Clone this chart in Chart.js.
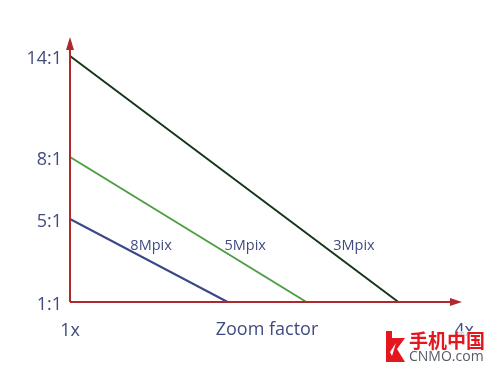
<!DOCTYPE html>
<html><head><meta charset="utf-8">
<script src="https://cdn.jsdelivr.net/npm/chart.js@4.4.1/dist/chart.umd.min.js"></script>
<style>html,body{margin:0;padding:0;background:#fff}</style>
</head><body><canvas id="c" width="500" height="375"></canvas>
<script>
// ---- data ----
const seriesNames = ['8Mpix', '5Mpix', '3Mpix'];
const zoomStart = [1, 1, 1];
const zoomEnd = [2.2, 2.8, 3.5];
const ratioStart = [5, 8, 14];
const ratioEnd = [1, 1, 1];
const yTicks = [1, 5, 8, 14];
const yTickLabels = ['1:1', '5:1', '8:1', '14:1'];
const xTicks = [1, 4];
const xTickLabels = ['1x', '4x'];
const xTitle = 'Zoom factor';

// ---- style ----
const lineColors = ['#3a4888', '#4e9e44', '#16361a'];
const textColor = '#404c80';
const axisColor = '#b0282c';
const FONT = '"Open Sans", "Noto Sans", sans-serif';
// schematic (non-uniform) spacing of the ratio axis: decimal of axis height per tick value
const yAnchorDecimals = [0, 0.3374, 0.5894, 1];

class PiecewiseScale extends Chart.LinearScale {
  _dec(value) {
    const v = yTicks, d = yAnchorDecimals;
    if (value <= v[0]) return d[0];
    for (let i = 1; i < v.length; i++) {
      if (value <= v[i]) {
        const t = (value - v[i - 1]) / (v[i] - v[i - 1]);
        return d[i - 1] + t * (d[i] - d[i - 1]);
      }
    }
    return d[d.length - 1];
  }
  getPixelForValue(value) { return this.getPixelForDecimal(this._dec(value)); }
  getValueForPixel(pixel) {
    const dec = this.getDecimalForPixel(pixel);
    const v = yTicks, d = yAnchorDecimals;
    for (let i = 1; i < d.length; i++) {
      if (dec <= d[i]) return v[i - 1] + (dec - d[i - 1]) / (d[i] - d[i - 1]) * (v[i] - v[i - 1]);
    }
    return v[v.length - 1];
  }
}
PiecewiseScale.id = 'piecewise';
PiecewiseScale.defaults = {};
Chart.register(PiecewiseScale);

const datasets = seriesNames.map((n, i) => ({
  label: n,
  data: [{x: zoomStart[i], y: ratioStart[i]}, {x: zoomEnd[i], y: ratioEnd[i]}],
  borderColor: lineColors[i],
  borderWidth: 2,
  pointRadius: 0,
  tension: 0,
  clip: false,
  fill: false
}));

const axesPlugin = {
  id: 'axesArrows',
  afterDatasetsDraw(chart) {
    const {ctx, chartArea: a} = chart;
    ctx.save();
    ctx.strokeStyle = axisColor;
    ctx.fillStyle = axisColor;
    ctx.lineWidth = 2;
    const x0 = a.left, y0 = a.bottom;
    ctx.beginPath();
    ctx.moveTo(x0, y0); ctx.lineTo(x0, 48);
    ctx.moveTo(x0, y0); ctx.lineTo(a.right - 10, y0);
    ctx.stroke();
    ctx.beginPath();
    ctx.moveTo(x0, 37); ctx.lineTo(x0 - 4, 50); ctx.lineTo(x0 + 4, 50); ctx.closePath(); ctx.fill();
    ctx.beginPath();
    ctx.moveTo(a.right - 2, y0); ctx.lineTo(a.right - 14, y0 - 4); ctx.lineTo(a.right - 14, y0 + 4); ctx.closePath(); ctx.fill();
    ctx.restore();
  }
};

const lineLabelPlugin = {
  id: 'lineLabels',
  afterDatasetsDraw(chart) {
    const {ctx} = chart;
    const yPix = 250;
    ctx.save();
    ctx.font = '14.5px ' + FONT;
    ctx.fillStyle = textColor;
    ctx.textBaseline = 'alphabetic';
    chart.data.datasets.forEach((ds, i) => {
      const m = chart.getDatasetMeta(i).data;
      const p0 = m[0], p1 = m[1];
      const t = (245 - p0.y) / (p1.y - p0.y);
      const x = p0.x + t * (p1.x - p0.x);
      ctx.fillText(ds.label, x + 11, yPix);
    });
    ctx.restore();
  }
};

const watermarkPlugin = {
  id: 'watermark',
  afterDraw(chart) {
    const {ctx} = chart;
    ctx.save();
    ctx.fillStyle = 'rgba(255,255,255,0.75)';
    ctx.fillRect(384, 331, 106, 36);
    ctx.fillStyle = '#e3171d';
    ctx.beginPath();
    ctx.moveTo(386, 331); ctx.lineTo(392, 331); ctx.lineTo(392, 338); ctx.lineTo(405, 338);
    ctx.lineTo(397, 349); ctx.lineTo(405, 362); ctx.lineTo(386, 362); ctx.closePath(); ctx.fill();
    ctx.fillStyle = '#fff';
    ctx.beginPath();
    ctx.moveTo(390, 352); ctx.lineTo(396, 343); ctx.lineTo(392, 356); ctx.closePath(); ctx.fill();
    ctx.fillStyle = '#e3171d';
    ctx.font = 'bold 19px "Noto Sans CJK SC", sans-serif';
    ctx.textBaseline = 'middle';
    ctx.fillText('手机中国', 409, 341);
    ctx.fillStyle = '#555a66';
    ctx.font = '14px ' + FONT;
    ctx.fillText('CNMO.com', 409, 357);
    ctx.restore();
  }
};

new Chart(document.getElementById('c'), {
  type: 'line',
  data: {datasets},
  options: {
    responsive: false,
    animation: false,
    devicePixelRatio: 1,
    layout: {padding: {top: 56, right: 36, left: 0, bottom: 0}},
    plugins: {legend: {display: false}, tooltip: {enabled: false}},
    scales: {
      x: {
        type: 'linear', min: 1, max: 4,
        grid: {display: false, drawTicks: false},
        border: {display: false},
        afterBuildTicks: s => { s.ticks = xTicks.map(v => ({value: v})); },
        afterFit: s => { s.height = 73; },
        ticks: {
          callback: (v, i) => xTickLabels[i],
          font: {family: FONT, size: 18}, color: textColor,
          padding: 18, maxRotation: 0, autoSkip: false
        },
        title: {
          display: true, text: xTitle,
          font: {family: FONT, size: 18}, color: textColor,
          padding: {top: 0, bottom: 34}
        }
      },
      y: {
        type: 'piecewise', min: 1, max: 14,
        grid: {display: false, drawTicks: false},
        border: {display: false},
        afterBuildTicks: s => { s.ticks = yTicks.map(v => ({value: v})); },
        afterFit: s => { s.width = 70; },
        ticks: {
          callback: (v, i) => yTickLabels[i],
          font: {family: FONT, size: 18}, color: textColor,
          padding: 8, autoSkip: false, labelOffset: 3
        }
      }
    }
  },
  plugins: [axesPlugin, lineLabelPlugin, watermarkPlugin]
});
</script>
</body></html>
